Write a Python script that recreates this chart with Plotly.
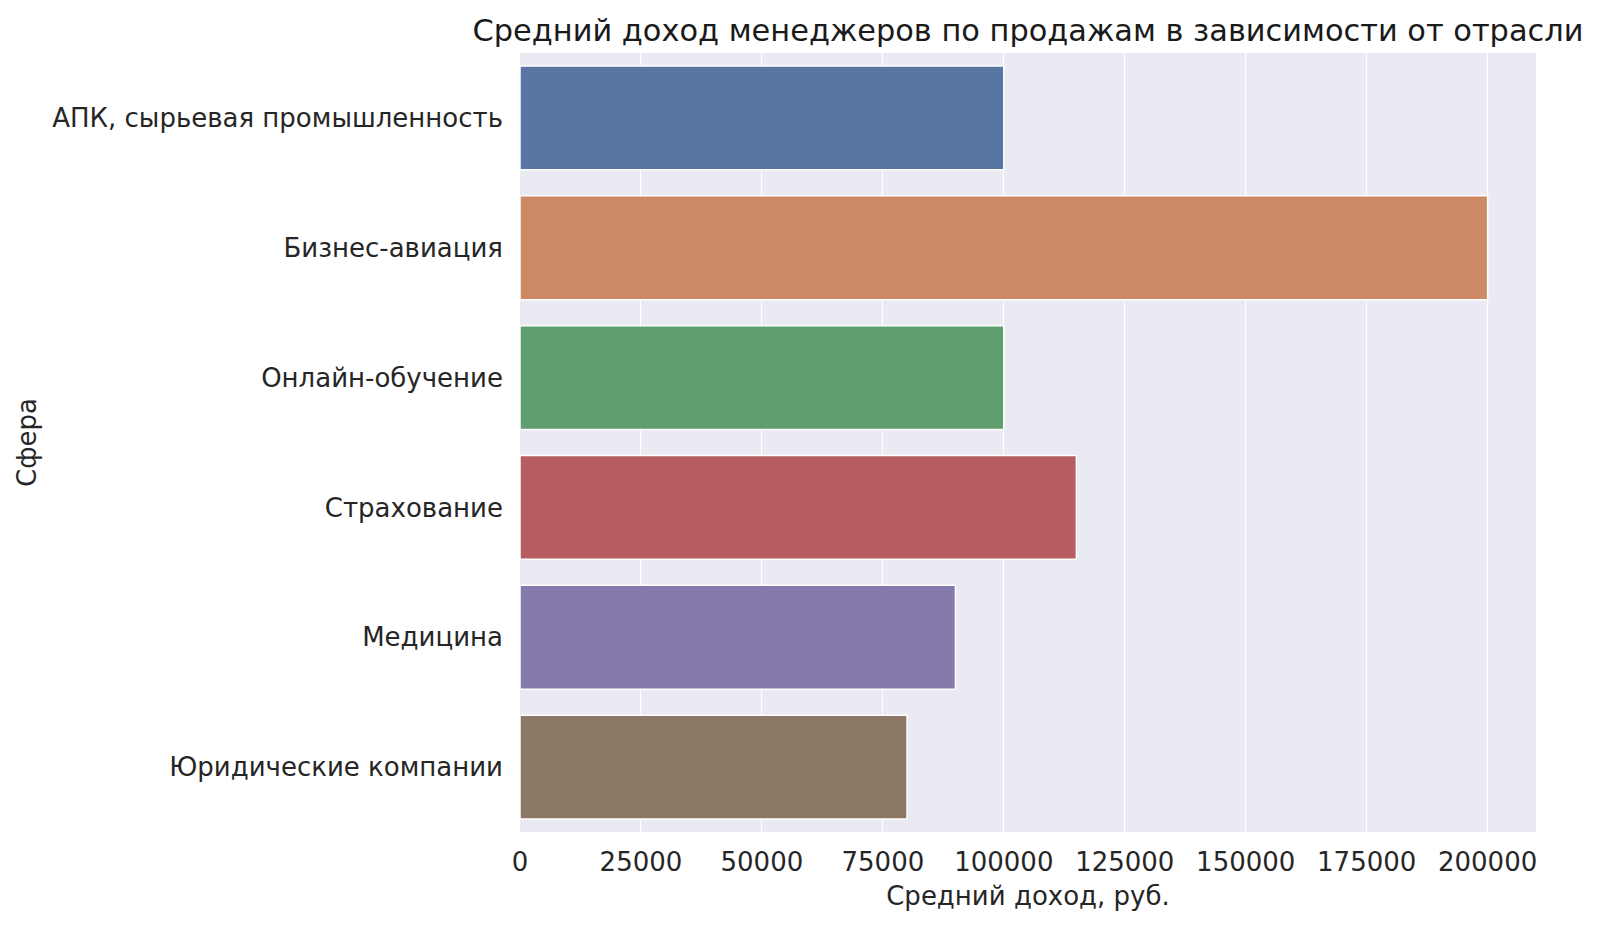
import plotly.graph_objects as go

categories = ["АПК, сырьевая промышленность", "Бизнес-авиация", "Онлайн-обучение",
              "Страхование", "Медицина", "Юридические компании"]
values = [100000, 200000, 100000, 115000, 90000, 80000]
colors = ["#5875A4", "#CC8963", "#5F9E6E", "#B55D60", "#857AAB", "#8D7866"]
tick_vals = [0, 25000, 50000, 75000, 100000, 125000, 150000, 175000, 200000]
tick_text = [str(v) for v in tick_vals]

fig = go.Figure(go.Bar(
    x=values, y=categories, orientation="h",
    marker=dict(color=colors, line=dict(color="white", width=1.5)),
    width=0.8,
))

font = "DejaVu Sans, Verdana, sans-serif"
fig.update_layout(
    width=1600, height=925,
    margin=dict(l=520, r=64, t=53, b=93),
    paper_bgcolor="white", plot_bgcolor="#EAEAF2",
    font=dict(family=font, size=26, color="#262626"),
    title=dict(text="Средний доход менеджеров по продажам в зависимости от отрасли",
               x=(520 + 1536) / 2 / 1600, xanchor="center", y=1 - 30 / 925, yanchor="middle",
               font=dict(size=30.4, color="#1a1a1a")),
    showlegend=False,
    bargap=0.2,
)
fig.update_xaxes(
    range=[0, 210000], tickvals=tick_vals, ticktext=tick_text,
    showgrid=True, gridcolor="white", gridwidth=1.2, zeroline=False,
    ticks="", ticklen=0, ticklabelstandoff=12,
    title=dict(text="Средний доход, руб.", font=dict(size=26), standoff=10),
    tickfont=dict(size=26),
)
fig.update_yaxes(
    autorange=False, range=[5.5, -0.5], categoryorder="array", categoryarray=categories,
    showgrid=False, zeroline=False, ticks="", ticklen=0, ticklabelstandoff=16,
    title=dict(text="Сфера", font=dict(size=26), standoff=8),
    tickfont=dict(size=26),
)
fig.write_html("out.html")
